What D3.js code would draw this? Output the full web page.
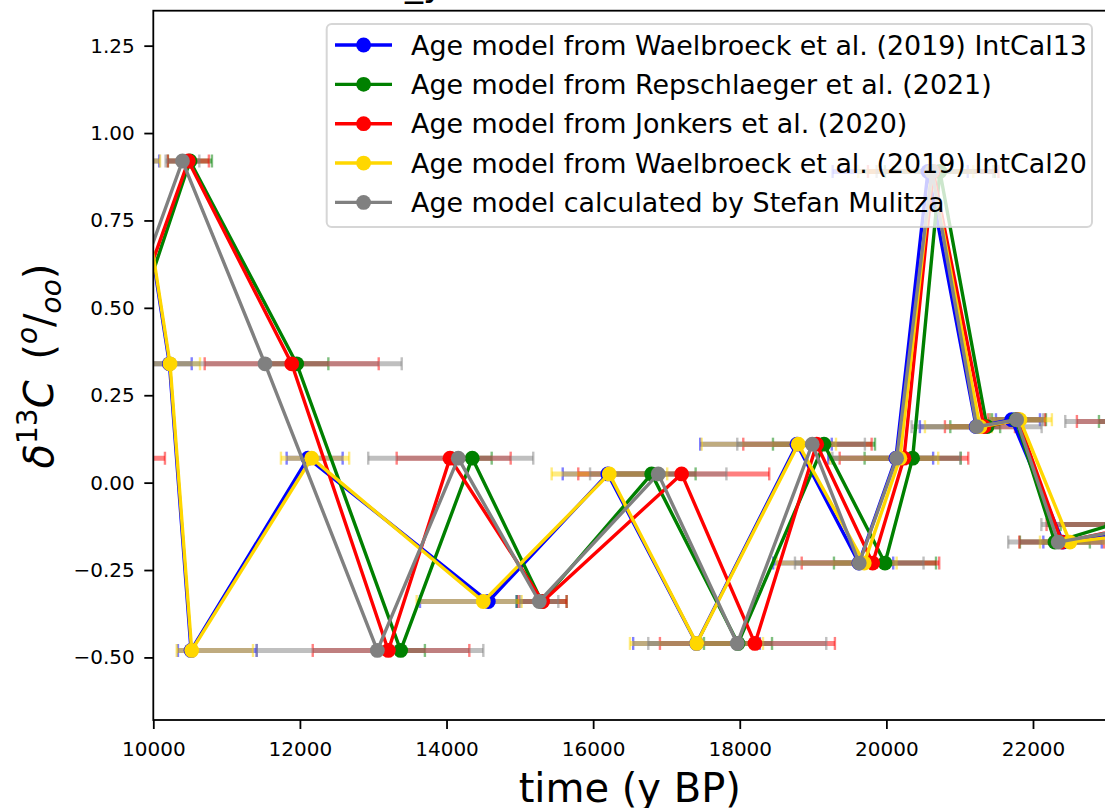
<!DOCTYPE html>
<html><head><meta charset="utf-8">
<script src="https://cdn.jsdelivr.net/npm/d3@7"></script>
<style>
body{margin:0;background:#fff;}
svg{display:block;font-family:"DejaVu Sans",sans-serif;}
</style>
</head><body>
<svg id="chart" width="1105" height="808"></svg>
<script>
// δ13C values (same sequence of measurements for every age model)
const d13C = [0.07, 0.92, 0.34, -0.48, 0.07, -0.34, 0.025, -0.46, 0.11, -0.23, 0.07, 0.89, 0.16, 0.18, -0.17, -0.12, 0.175];

const seriesNames = [
  "Age model from Waelbroeck et al. (2019) IntCal13",
  "Age model from Repschlaeger et al. (2021)",
  "Age model from Jonkers et al. (2020)",
  "Age model from Waelbroeck et al. (2019) IntCal20",
  "Age model calculated by Stefan Mulitza"
];
const seriesColors = ["#0000ff", "#008000", "#ff0000", "#ffd700", "#808080"];

// ages (y BP) per age model
const blueAges   = [8450, 9790, 10220, 10515, 12110, 14570, 16200, 17410, 18780, 19626, 20130, 20567, 21225, 21709, 22410, 24200, 24800];
const greenAges  = [9150, 10500, 11956, 13374, 14351, 15298, 16798, 17976, 19149, 19981, 20358, 20730, 21372, 21768, 22299, 23078, 23800];
const redAges    = [9035, 10478, 11888, 13206, 14047, 15311, 17207, 18207, 19049, 19813, 20240, 20639, 21331, 21795, 22391, 23527, 23936];
const yellowAges = [8500, 9800, 10228, 10524, 12160, 14501, 16220, 17412, 18798, 19698, 20185, 20621, 21276, 21822, 22504, 24500, 25000];
const grayAges   = [8934, 10398, 11524, 13056, 14160, 15265, 16888, 17966, 18989, 19630, 20140, 20621, 21231, 21777, 22344, 23636, 24000];

// age uncertainties (years), lower / upper
const blueErrLo   = [500, 290, 304, 179, 291, 932, 615, 864, 1320, 1170, 923, 1300, 768, 214, 269, 800, 800];
const blueErrHi   = [500, 290, 304, 895, 473, 387, 603, 864, 475, 467, 508, 543, 160, 386, 528, 800, 800];
const greenErrLo  = [300, 300, 432, 331, 265, 341, 600, 464, 696, 696, 655, 750, 500, 327, 477, 700, 900];
const greenErrHi  = [300, 300, 432, 331, 265, 341, 600, 464, 696, 696, 657, 750, 180, 409, 477, 700, 900];
const redErrLo    = [1124, 280, 1187, 1031, 727, 327, 1410, 1296, 1001, 968, 877, 890, 532, 409, 578, 1342, 1337];
const redErrHi    = [1124, 280, 1187, 1105, 828, 327, 1195, 1091, 750, 908, 877, 890, 423, 368, 578, 1342, 1337];
const yellowErrLo = [500, 292, 409, 205, 419, 908, 786, 910, 1318, 1195, 955, 1005, 750, 409, 409, 800, 800];
const yellowErrHi = [500, 292, 409, 836, 512, 524, 790, 905, 515, 442, 522, 564, 164, 436, 545, 800, 800];
const grayErrLo   = [1000, 230, 1865, 1645, 1228, 260, 930, 1214, 1023, 877, 877, 754, 887, 364, 682, 1522, 1560];
const grayErrHi   = [1000, 230, 1865, 1446, 1023, 260, 930, 1214, 718, 877, 868, 836, 887, 359, 682, 1522, 1560];

const xTicks = [10000, 12000, 14000, 16000, 18000, 20000, 22000];
const yTicks = [-0.5, -0.25, 0, 0.25, 0.5, 0.75, 1.0, 1.25];

const ages = [blueAges, greenAges, redAges, yellowAges, grayAges];
const errLo = [blueErrLo, greenErrLo, redErrLo, yellowErrLo, grayErrLo];
const errHi = [blueErrHi, greenErrHi, redErrHi, yellowErrHi, grayErrHi];

const series = seriesNames.map((name, s) => ({
  name, color: seriesColors[s],
  pts: d13C.map((v, i) => ({x: ages[s][i], y: v, lo: ages[s][i] - errLo[s][i], hi: ages[s][i] + errHi[s][i]}))
}));

const svg = d3.select("#chart");
const L = 153.3, R = 1106.3, T = 10.7, B = 720;
const x = d3.scaleLinear().domain([10000, 23000]).range([L, R]);
const y = d3.scaleLinear().domain([-0.679, 1.350]).range([B, T]);

svg.append("defs").append("clipPath").attr("id", "clip")
  .append("rect").attr("x", L).attr("y", T).attr("width", R - L).attr("height", B - T);

const plot = svg.append("g").attr("clip-path", "url(#clip)");

// error bars
series.forEach(s => {
  const g = plot.append("g").attr("stroke", s.color).attr("stroke-opacity", 0.5);
  s.pts.forEach(p => {
    g.append("line").attr("x1", x(p.lo)).attr("x2", x(p.hi)).attr("y1", y(p.y)).attr("y2", y(p.y)).attr("stroke-width", 5);
    [p.lo, p.hi].forEach(e => {
      g.append("line").attr("x1", x(e)).attr("x2", x(e)).attr("y1", y(p.y) - 6.5).attr("y2", y(p.y) + 6.5).attr("stroke-width", 2.4);
    });
  });
});

// lines and markers
const line = d3.line().x(d => x(d.x)).y(d => y(d.y));
series.forEach(s => {
  plot.append("path").datum(s.pts).attr("d", line).attr("fill", "none")
    .attr("stroke", s.color).attr("stroke-width", 3.4).attr("stroke-linejoin", "round");
  plot.append("g").selectAll("circle").data(s.pts).join("circle")
    .attr("cx", d => x(d.x)).attr("cy", d => y(d.y)).attr("r", 7.4).attr("fill", s.color);
});

// axes
const xAxis = svg.append("g").attr("transform", `translate(0,${B})`)
  .call(d3.axisBottom(x).tickValues(xTicks).tickFormat(d3.format("d")).tickSize(9).tickPadding(12.5));
const yAxis = svg.append("g").attr("transform", `translate(${L},0)`)
  .call(d3.axisLeft(y).tickValues(yTicks).tickFormat(d3.format(".2f")).tickSize(9).tickPadding(9.5));
[xAxis, yAxis].forEach(a => {
  a.select(".domain").remove();
  a.selectAll(".tick line").attr("stroke", "#000").attr("stroke-width", 1.8);
  a.selectAll(".tick text").attr("font-size", 20).attr("font-family", "DejaVu Sans").attr("fill", "#000");
});

// spines
const sp = svg.append("g").attr("stroke", "#000").attr("stroke-width", 1.8).attr("fill", "none");
sp.append("rect").attr("x", L).attr("y", T).attr("width", R - L).attr("height", B - T);

// axis labels
svg.append("text").attr("x", (L + R) / 2).attr("y", 801.7).attr("text-anchor", "middle")
  .attr("font-size", 40).text("time (y BP)");

const yl = svg.append("text").attr("transform", "translate(53,366) rotate(-90)")
  .attr("text-anchor", "middle").attr("font-size", 40);
yl.append("tspan").attr("font-style", "italic").text("δ");
yl.append("tspan").attr("font-size", 28).attr("dy", -16).text("13");
yl.append("tspan").attr("font-style", "italic").attr("dy", 16).text("C");
yl.append("tspan").text("\u2009 (");
yl.append("tspan").attr("font-style", "italic").attr("font-size", 28).attr("dy", -16).text("o");
yl.append("tspan").attr("dy", 16).text("/");
yl.append("tspan").attr("font-style", "italic").attr("font-size", 28).attr("dy", 8).text("oo");
yl.append("tspan").attr("dy", -8).text(")");

// title (mostly above the visible area)
svg.append("text").attr("x", 405).attr("y", -4).attr("font-size", 36).text("_y");

// legend
const lg = svg.append("g");
lg.append("rect").attr("x", 326.7).attr("y", 24).attr("width", 765.3).attr("height", 203).attr("rx", 5)
  .attr("fill", "#fff").attr("fill-opacity", 0.8).attr("stroke", "#ccc").attr("stroke-opacity", 0.8).attr("stroke-width", 2);
series.forEach((s, i) => {
  const yy = 45 + i * 39.35;
  lg.append("line").attr("x1", 335).attr("x2", 392).attr("y1", yy).attr("y2", yy).attr("stroke", s.color).attr("stroke-width", 3.4);
  lg.append("circle").attr("cx", 363.6).attr("cy", yy).attr("r", 7.4).attr("fill", s.color);
  lg.append("text").attr("x", 411).attr("y", yy).attr("dy", "0.36em").attr("font-size", 26.9).text(s.name);
});
</script>
</body></html>
